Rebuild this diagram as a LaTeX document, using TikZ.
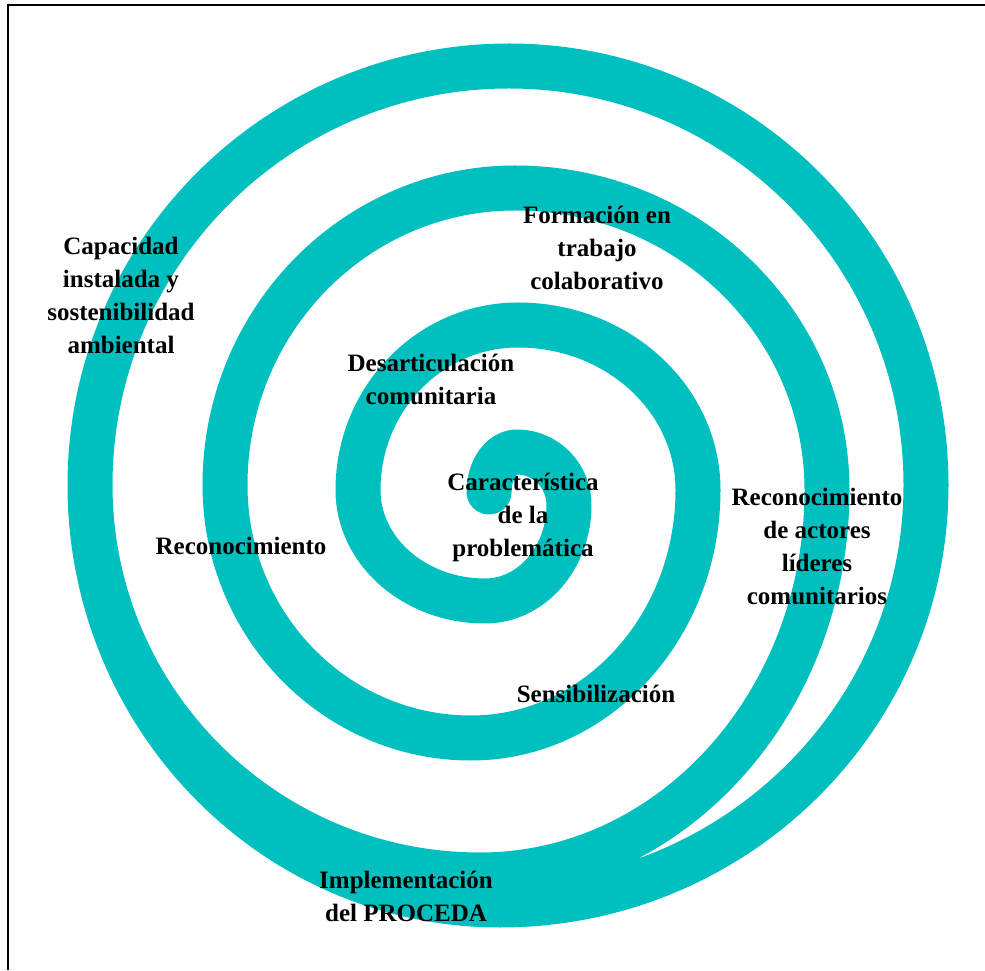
\documentclass[tikz,border=0pt]{standalone}
\usepackage{fontspec}
\setmainfont{Liberation Serif}
\definecolor{teal1}{RGB}{0,191,191}
\tikzset{
  band/.style={draw=teal1, line width=45pt, line cap=round, line join=round},
  lbl/.style={font=\fontsize{25}{33}\selectfont\bfseries, align=center, inner sep=0pt, text=black},
  frame/.style={draw=black, line width=2pt}
}
\begin{document}
\begin{tikzpicture}[x=1pt,y=1pt]
\useasboundingbox (0,0) rectangle (985,970);
% frame (top and left edges visible)
\coordinate (fTL) at (8,965);
\coordinate (fTR) at (985,965);
\coordinate (fBL) at (8,0);
\draw[frame] (fBL) -- (fTL) -- (fTR);
% spiral
\coordinate (tip) at (489,478);
\draw[band] (tip)
  arc[start angle=180, end angle=90, x radius=28pt, y radius=40pt]
  arc[start angle=90, end angle=0, x radius=52pt, y radius=53pt]
  arc[start angle=0, end angle=-90, x radius=84pt, y radius=96pt]
  arc[start angle=-90, end angle=-180, x radius=127pt, y radius=111pt]
  arc[start angle=180, end angle=90, x radius=160pt, y radius=165pt]
  arc[start angle=90, end angle=0, x radius=180pt, y radius=165pt]
  arc[start angle=0, end angle=-90, x radius=227pt, y radius=248pt]
  arc[start angle=-90, end angle=-180, x radius=246pt, y radius=253pt]
  arc[start angle=180, end angle=90, x radius=290pt, y radius=297pt]
  arc[start angle=90, end angle=0, x radius=312pt, y radius=302pt]
  arc[start angle=0, end angle=-90, x radius=347pt, y radius=385pt]
  arc[start angle=-90, end angle=-180, x radius=390pt, y radius=390pt]
  arc[start angle=180, end angle=90, x radius=419pt, y radius=419pt]
  arc[start angle=90, end angle=0, x radius=417pt, y radius=419pt]
  arc[start angle=0, end angle=-90, x radius=426pt, y radius=420pt]
  arc[start angle=-90, end angle=-180, x radius=410pt, y radius=420pt];
% labels
\node[lbl] (cap) at (121,675) {Capacidad\\instalada y\\sostenibilidad\\ambiental};
\node[lbl] (form) at (597,722) {Formación en\\trabajo\\colaborativo};
\node[lbl] (desart) at (431,591) {Desarticulación\\comunitaria};
\node[lbl] (caract) at (523,453) {Característica\\de la\\problemática};
\node[lbl] (recon) at (241,424) {Reconocimiento};
\node[lbl] (reconact) at (817,424) {Reconocimiento\\de actores\\líderes\\comunitarios};
\node[lbl] (sensib) at (596,276) {Sensibilización};
\node[lbl] (impl) at (406,74) {Implementación\\del PROCEDA};
\end{tikzpicture}
\end{document}
